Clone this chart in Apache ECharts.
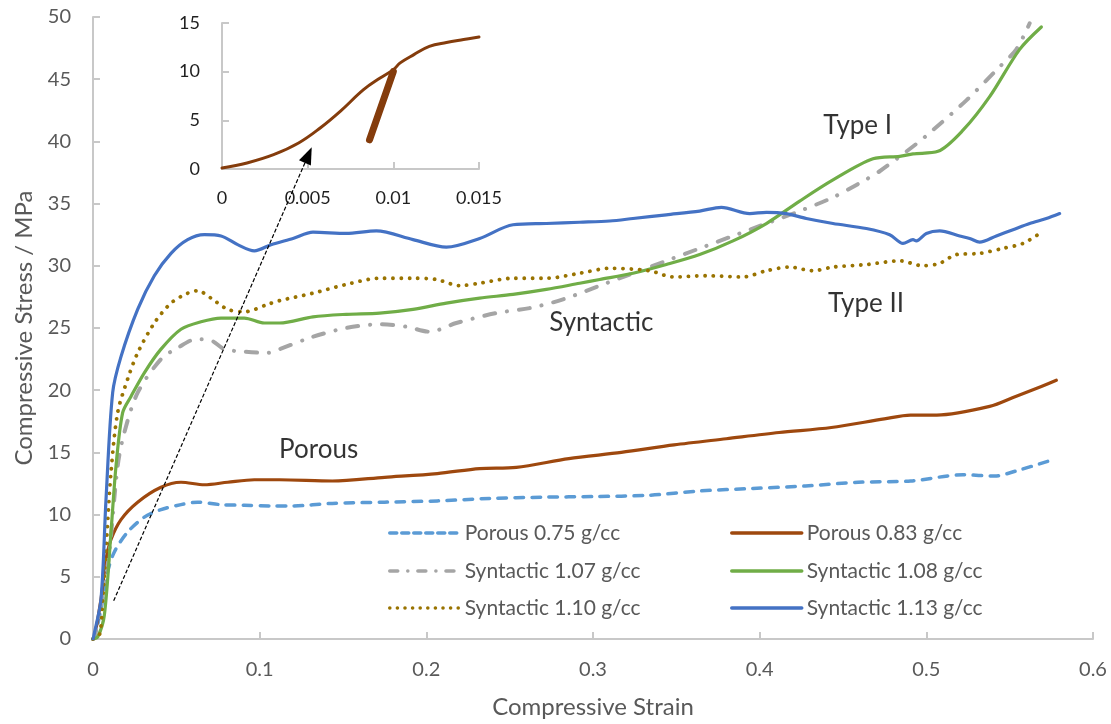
<!DOCTYPE html>
<html>
<head>
<meta charset="utf-8">
<script src="https://cdn.jsdelivr.net/npm/echarts@6/dist/echarts.min.js"></script>
<style>
  html, body { margin: 0; padding: 0; background: #fff; }
  #chart { width: 1111px; height: 724px; }
</style>
</head>
<body>
<div id="chart"></div>
<script>
// ---- Stress–strain data: [compressive strain, compressive stress (MPa)] ----
const porous075 = [[0,0],[0.0008,0.1],[0.0048,2.4],[0.0088,5.4],[0.0128,7.0],[0.0208,8.6],[0.0308,9.8],[0.0408,10.4],[0.0528,10.8],[0.0628,11.0],[0.0768,10.8],[0.0908,10.75],[0.1068,10.7],[0.12,10.7],[0.1436,10.9],[0.175,11.0],[0.2066,11.1],[0.238,11.3],[0.27,11.4],[0.301,11.45],[0.333,11.55],[0.364,11.9],[0.396,12.1],[0.4275,12.3],[0.459,12.6],[0.4906,12.7],[0.522,13.2],[0.541,13.1],[0.5536,13.5],[0.5757,14.4]];
const porous083 = [[0,0],[0.0008,0.1],[0.0048,3.2],[0.0078,6.4],[0.0108,8.0],[0.0168,9.6],[0.0268,11.0],[0.0408,12.2],[0.0528,12.6],[0.0668,12.4],[0.0808,12.6],[0.0968,12.8],[0.112,12.8],[0.1436,12.7],[0.175,13.0],[0.2066,13.3],[0.232,13.7],[0.254,13.8],[0.2855,14.5],[0.317,15.0],[0.3486,15.6],[0.38,16.1],[0.4117,16.6],[0.443,17.0],[0.4748,17.7],[0.4905,18.0],[0.5063,18.0],[0.538,18.7],[0.5536,19.5],[0.569,20.3],[0.578,20.8]];
const syntactic107 = [[0,0],[0.0008,0.1],[0.0088,5.9],[0.0148,13.9],[0.0188,16.6],[0.0268,19.8],[0.0408,22.5],[0.0508,23.4],[0.0618,24.1],[0.0708,24.0],[0.0788,23.3],[0.0908,23.1],[0.1048,23.0],[0.112,23.3],[0.132,24.3],[0.152,25.0],[0.172,25.3],[0.188,25.1],[0.202,24.7],[0.218,25.4],[0.242,26.2],[0.262,26.6],[0.282,27.3],[0.304,28.4],[0.324,29.4],[0.344,30.4],[0.364,31.4],[0.384,32.4],[0.404,33.4],[0.424,34.4],[0.444,35.5],[0.462,36.8],[0.472,37.6],[0.494,39.8],[0.503,40.8],[0.524,43.3],[0.544,46.0],[0.554,47.4],[0.562,49.5]];
const syntactic108 = [[0,0],[0.003,0.2],[0.0068,1.9],[0.0108,8.6],[0.0138,13.9],[0.0178,18.2],[0.0228,19.5],[0.0308,21.4],[0.0408,23.3],[0.0528,24.9],[0.0648,25.5],[0.0768,25.8],[0.0908,25.8],[0.1028,25.4],[0.112,25.4],[0.132,25.9],[0.152,26.1],[0.172,26.2],[0.192,26.5],[0.212,27.0],[0.232,27.4],[0.252,27.7],[0.272,28.1],[0.292,28.6],[0.304,28.9],[0.324,29.4],[0.344,30.1],[0.364,30.9],[0.384,32.0],[0.404,33.4],[0.424,35.2],[0.444,36.9],[0.468,38.6],[0.484,38.8],[0.492,39.0],[0.507,39.2],[0.522,40.9],[0.538,43.6],[0.556,47.4],[0.569,49.2]];
const syntactic110 = [[0,0],[0.004,0.4],[0.0058,3.2],[0.0078,7.2],[0.0108,13.4],[0.0148,18.2],[0.0208,20.9],[0.0268,23.0],[0.0368,25.4],[0.0468,27.0],[0.0568,27.8],[0.0628,28.0],[0.0708,27.4],[0.0808,26.5],[0.0908,26.3],[0.1048,26.9],[0.112,27.2],[0.132,27.8],[0.152,28.5],[0.172,29.0],[0.192,29.0],[0.206,28.9],[0.22,28.4],[0.232,28.6],[0.252,29.0],[0.272,29.0],[0.292,29.4],[0.31,29.8],[0.334,29.6],[0.348,29.1],[0.368,29.2],[0.39,29.1],[0.404,29.6],[0.418,29.9],[0.432,29.6],[0.444,29.9],[0.464,30.1],[0.484,30.4],[0.498,30.0],[0.508,30.2],[0.518,30.9],[0.532,31.0],[0.546,31.4],[0.558,31.8],[0.568,32.6]];
const syntactic113 = [[0,0],[0.0004,0.2],[0.0048,3.2],[0.0078,11.2],[0.0118,19.8],[0.0168,22.7],[0.0268,26.5],[0.0368,29.2],[0.0468,31.0],[0.0568,32.1],[0.0668,32.5],[0.0768,32.4],[0.0868,31.7],[0.0968,31.2],[0.1068,31.7],[0.12,32.2],[0.132,32.7],[0.152,32.6],[0.17,32.8],[0.192,32.1],[0.212,31.5],[0.232,32.2],[0.252,33.3],[0.272,33.4],[0.292,33.5],[0.31,33.6],[0.324,33.8],[0.344,34.1],[0.364,34.4],[0.377,34.7],[0.394,34.2],[0.404,34.3],[0.416,34.2],[0.428,33.8],[0.444,33.4],[0.464,33.0],[0.478,32.5],[0.486,31.8],[0.492,32.1],[0.494,32.0],[0.5,32.6],[0.508,32.8],[0.52,32.4],[0.526,32.2],[0.532,31.9],[0.542,32.4],[0.552,32.9],[0.562,33.4],[0.572,33.8],[0.58,34.2]];

// Initial loading region of Porous 0.83 g/cc (inset), and its unloading segment
const insetLoading = [[0,0.1],[0.00146,0.62],[0.00301,1.47],[0.00447,2.67],[0.00573,4.21],[0.0069,5.92],[0.00826,8.15],[0.00923,9.35],[0.01,10.2],[0.0104,10.9],[0.0112,11.75],[0.0121,12.6],[0.0131,13.0],[0.0141,13.3],[0.015,13.56]];
const insetUnloading = [[0.00861,3.0],[0.01,10.0]];

// Axis ticks
const mainStrainTicks = [0, 0.1, 0.2, 0.3, 0.4, 0.5, 0.6];
const mainStressTicks = [0, 5, 10, 15, 20, 25, 30, 35, 40, 45, 50];
const insetStrainTicks = [0, 0.005, 0.01, 0.015];
const insetStressTicks = [0, 5, 10, 15];

// Text annotations on the main plot
const annotations = [
  { name: 'Type I', value: [0.4588, 41.3] },
  { name: 'Type II', value: [0.4638, 27.0] },
  { name: 'Syntactic', value: [0.305, 25.4] },
  { name: 'Porous', value: [0.1354, 15.2] }
];
// Pointer from the origin region to the inset
const pointerFrom = [0.0124, 3.07];
const pointerTo = [0.1292, 38.9];

const FONT = 'Lato';
const GREY_TEXT = '#595959';
const AXIS_GREY = '#c8c8c8';

const styles = {
  'Porous 0.75 g/cc':    { data: porous075,    color: '#5B9BD5', type: [8.5, 8.5], width: 3.5, cap: 'round' },
  'Porous 0.83 g/cc':    { data: porous083,    color: '#9E480E', type: 'solid',    width: 3.2, cap: 'round' },
  'Syntactic 1.07 g/cc': { data: syntactic107, color: '#A5A5A5', type: [11, 12, 0.1, 12], width: 4, cap: 'round' },
  'Syntactic 1.08 g/cc': { data: syntactic108, color: '#70AD47', type: 'solid',    width: 3.2, cap: 'round' },
  'Syntactic 1.10 g/cc': { data: syntactic110, color: '#997300', type: [0.1, 8.2], width: 3.8, cap: 'round' },
  'Syntactic 1.13 g/cc': { data: syntactic113, color: '#4472C4', type: 'solid',    width: 3.2, cap: 'round' }
};
const legendStyles = {
  'Porous 0.75 g/cc':    { type: [7, 5] },
  'Porous 0.83 g/cc':    { type: 'solid' },
  'Syntactic 1.07 g/cc': { type: [8, 10, 0.1, 10] },
  'Syntactic 1.08 g/cc': { type: 'solid' },
  'Syntactic 1.10 g/cc': { type: [0.1, 7.5] },
  'Syntactic 1.13 g/cc': { type: 'solid' }
};
const seriesOrder = ['Porous 0.75 g/cc', 'Porous 0.83 g/cc', 'Syntactic 1.07 g/cc', 'Syntactic 1.08 g/cc', 'Syntactic 1.10 g/cc', 'Syntactic 1.13 g/cc'];
// legend slot: [left, center y]
const legendSlots = [[388, 533], [730, 533], [388, 571], [730, 571], [388, 608], [730, 608]];

const mainSeries = seriesOrder.map(function (name) {
  const s = styles[name];
  return {
    name: name,
    type: 'line',
    xAxisIndex: 0, yAxisIndex: 0,
    data: s.data,
    symbol: 'none',
    smooth: 0.3,
    z: 3,
    lineStyle: { color: s.color, type: s.type, width: s.width, cap: s.cap, join: 'round' },
    itemStyle: { color: s.color }
  };
});

const legends = seriesOrder.map(function (name, i) {
  const s = styles[name];
  return {
    data: [name],
    left: legendSlots[i][0],
    top: legendSlots[i][1] - 13,
    padding: 0,
    itemWidth: 70,
    itemHeight: 14,
    itemGap: 0,
    selectedMode: false,
    // only the line sample is shown, no marker on it
    itemStyle: { color: 'rgba(0,0,0,0)', borderColor: 'rgba(0,0,0,0)', borderWidth: 0, opacity: 0 },
    lineStyle: { color: s.color, type: legendStyles[name].type, width: 3.5, cap: 'round', opacity: 1 },
    textStyle: { fontFamily: FONT, fontSize: 21, color: GREY_TEXT, lineHeight: 26 }
  };
});

function valueAxisFrom(ticks, extra) {
  return Object.assign({
    type: 'value',
    min: ticks[0],
    max: ticks[ticks.length - 1],
    interval: ticks[1] - ticks[0],
    splitLine: { show: false },
    axisLine: { show: true, onZero: false, lineStyle: { color: AXIS_GREY, width: 2 } },
    axisTick: { show: true, inside: true, length: 7, lineStyle: { color: AXIS_GREY, width: 2 } }
  }, extra);
}

const option = {
  backgroundColor: '#ffffff',
  animation: false,
  grid: [
    { left: 93, top: 17, right: 18, bottom: 84, containLabel: false },
    { left: 222, top: 23, width: 257, height: 146, containLabel: false }
  ],
  legend: legends,
  xAxis: [
    valueAxisFrom(mainStrainTicks, {
      gridIndex: 0,
      name: 'Compressive Strain',
      nameLocation: 'middle',
      nameGap: 56,
      nameTextStyle: { fontFamily: FONT, fontSize: 24, color: GREY_TEXT },
      axisLabel: { margin: 21, fontFamily: FONT, fontSize: 20, color: GREY_TEXT }
    }),
    valueAxisFrom(insetStrainTicks, {
      gridIndex: 1,
      axisLabel: { margin: 20, fontFamily: FONT, fontSize: 18, color: '#1f1f1f' }
    })
  ],
  yAxis: [
    valueAxisFrom(mainStressTicks, {
      gridIndex: 0,
      name: 'Compressive Stress / MPa',
      nameLocation: 'middle',
      nameGap: 57,
      nameTextStyle: { fontFamily: FONT, fontSize: 24, color: GREY_TEXT },
      axisLabel: { margin: 22, fontFamily: FONT, fontSize: 20, color: GREY_TEXT }
    }),
    valueAxisFrom(insetStressTicks, {
      gridIndex: 1,
      axisLabel: { margin: 22, fontFamily: FONT, fontSize: 18, color: '#1f1f1f' }
    })
  ],
  series: mainSeries.concat([
    {
      name: 'inset-loading',
      type: 'line',
      xAxisIndex: 1, yAxisIndex: 1,
      data: insetLoading,
      symbol: 'none',
      smooth: 0.4,
      lineStyle: { color: '#843C0C', width: 3, cap: 'round' },
      z: 4
    },
    {
      name: 'inset-unloading',
      type: 'line',
      xAxisIndex: 1, yAxisIndex: 1,
      data: insetUnloading,
      symbol: 'none',
      lineStyle: { color: '#843C0C', width: 7, cap: 'round' },
      z: 4
    },
    {
      name: 'annotations',
      type: 'scatter',
      xAxisIndex: 0, yAxisIndex: 0,
      data: annotations,
      symbolSize: 1,
      itemStyle: { color: 'rgba(0,0,0,0)' },
      silent: true,
      z: 6,
      label: {
        show: true,
        position: 'inside',
        formatter: '{b}',
        fontFamily: FONT,
        fontSize: 26,
        color: '#000000'
      },
      markLine: {
        silent: true,
        symbol: ['none', 'triangle'],
        symbolSize: [13, 17],
        label: { show: false },
        lineStyle: { color: '#000000', type: [4, 2], width: 1.2 },
        data: [[{ coord: pointerFrom }, { coord: pointerTo }]]
      }
    }
  ])
};

const chart = echarts.init(document.getElementById('chart'), null, { renderer: 'canvas' });
chart.setOption(option);
</script>
</body>
</html>
